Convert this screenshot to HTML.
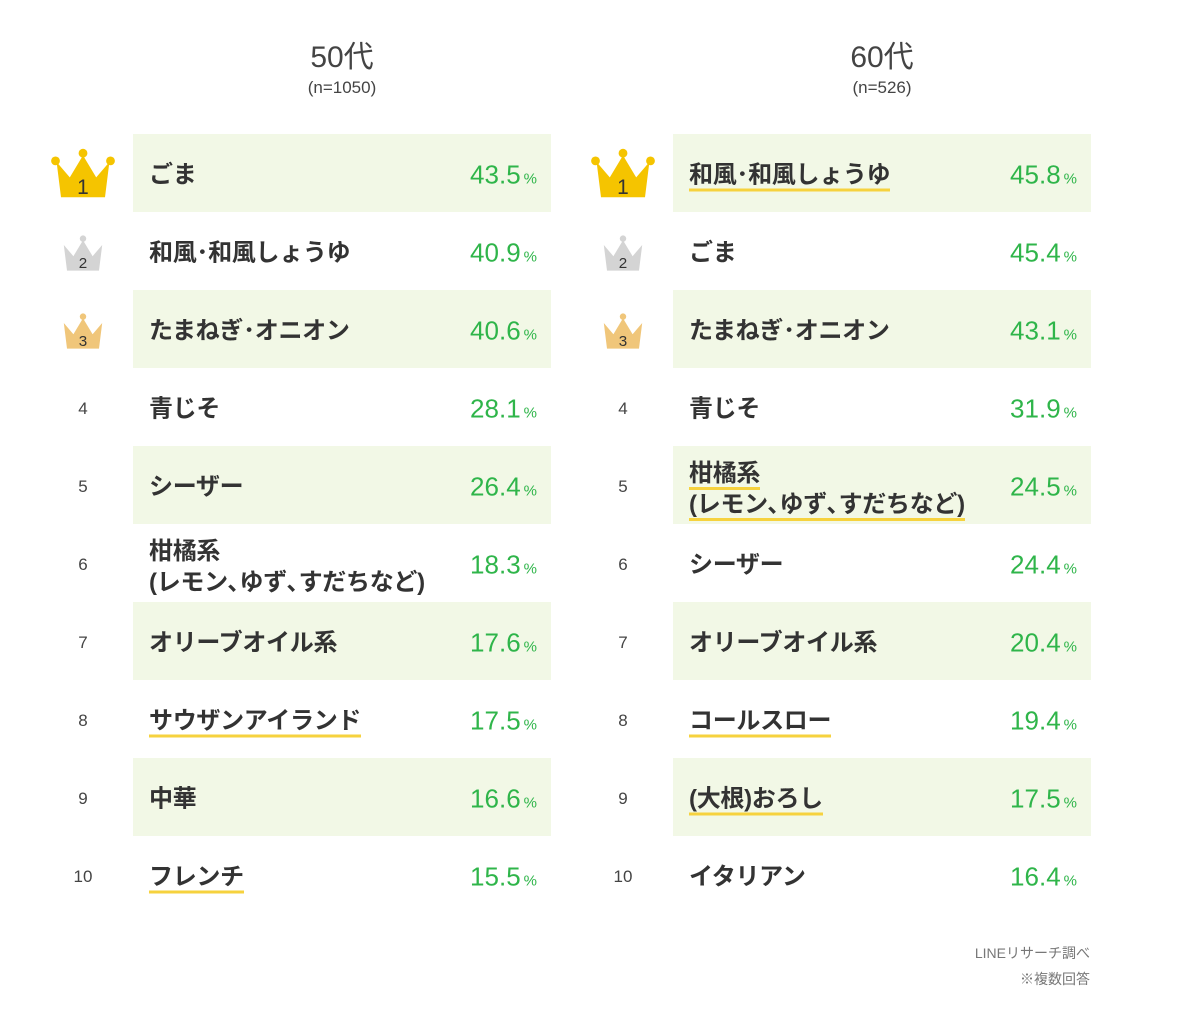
<!DOCTYPE html>
<html><head><meta charset="utf-8"><style>
body{margin:0;width:1200px;height:1033px;background:#fff;font-family:"Liberation Sans","Noto Sans CJK JP",sans-serif;position:relative;overflow:hidden}
.h{position:absolute;text-align:center;color:#444;width:300px}
.h b{display:block;font-weight:normal;font-size:30px}
.h span{display:block;font-size:17px;margin-top:2px}
.bg{position:absolute;height:78px;background:#f2f8e6;width:418px}
.rk{position:absolute;width:40px;text-align:center;font-size:17px;color:#444;transform:translateY(-50%)}
.nm{position:absolute;font-size:24px;color:#333;font-weight:bold;transform:translateY(-50%);line-height:31px;letter-spacing:-0.3px}
.nm u{text-decoration:none;border-bottom:3px solid #f6d23e}
.pc{position:absolute;font-size:26px;color:#2fb54a;transform:translateY(-50%);text-align:right;width:140px}
.pc small{font-size:15px;margin-left:3px}
.cr{position:absolute;transform:translate(-50%,-50%)}
.note{position:absolute;right:110px;font-size:14px;color:#777;text-align:right;line-height:26px}
</style></head><body>
<div class="h" style="left:192px;top:32px"><b>50代</b><span>(n=1050)</span></div>
<div class="h" style="left:732px;top:32px"><b>60代</b><span>(n=526)</span></div>
<div id="c"></div>
<div class="note" style="top:940px">LINEリサーチ調べ<br>※複数回答</div>
<script>
var L=[["ごま","43.5"],["和風･和風しょうゆ","40.9"],["たまねぎ･オニオン","40.6"],["青じそ","28.1"],["シーザー","26.4"],["柑橘系<br>(レモン､ゆず､すだちなど)","18.3"],["オリーブオイル系","17.6"],["<u>サウザンアイランド</u>","17.5"],["中華","16.6"],["<u>フレンチ</u>","15.5"]];
var R=[["<u>和風･和風しょうゆ</u>","45.8"],["ごま","45.4"],["たまねぎ･オニオン","43.1"],["青じそ","31.9"],["<u>柑橘系</u><br><u>(レモン､ゆず､すだちなど)</u>","24.5"],["シーザー","24.4"],["オリーブオイル系","20.4"],["<u>コールスロー</u>","19.4"],["<u>(大根)おろし</u>","17.5"],["イタリアン","16.4"]];
var cols=["#f5c400","#d4d4d4","#f0c67a"];
function crown(i,x,y){var c=cols[i],s=i==0?1.1:0.8;
return '<svg class="cr" style="left:'+x+'px;top:'+y+'px" width="'+(60*s)+'" height="'+(48*s)+'" viewBox="0 0 60 48"><path d="M6 14 L18 28 L30 8 L42 28 L54 14 L50 46 L10 46Z" fill="'+c+'"/>'+(i==0?'<circle cx="5" cy="13" r="4" fill="'+c+'"/><circle cx="55" cy="13" r="4" fill="'+c+'"/>':'')+'<circle cx="30" cy="6" r="4" fill="'+c+'"/><text x="30" y="43" text-anchor="middle" font-size="19" fill="#333" font-family="Liberation Sans">'+(i+1)+'</text></svg>';}
var h="";
[[L,133,83],[R,673,623]].forEach(function(g){var d=g[0],x=g[1],rx=g[2];
d.forEach(function(r,i){var y=173+78*i;
if(i%2==0)h+='<div class="bg" style="left:'+x+'px;top:'+(134+78*i)+'px"></div>';
if(i<3)h+=crown(i,rx,y+(i==0?0:2));else h+='<div class="rk" style="left:'+(rx-20)+'px;top:'+(y+2)+'px">'+(i+1)+'</div>';
h+='<div class="nm" style="left:'+(x+16)+'px;top:'+(y+2+(r[0].indexOf("<br>")>0?2:0))+'px">'+r[0]+'</div>';
h+='<div class="pc" style="left:'+(x+264)+'px;top:'+(y+2)+'px">'+r[1]+'<small>%</small></div>';});});
document.getElementById("c").innerHTML=h;
</script>
</body></html>
